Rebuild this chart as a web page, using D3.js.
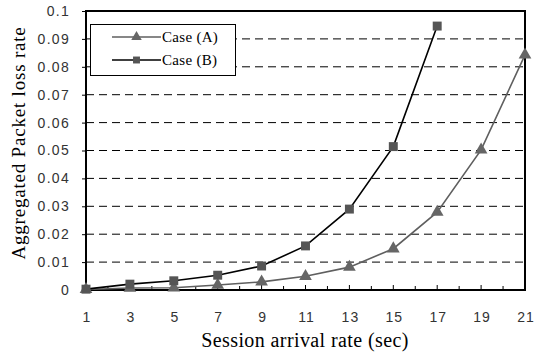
<!DOCTYPE html>
<html>
<head>
<meta charset="utf-8">
<script src="https://cdn.jsdelivr.net/npm/d3@7"></script>
<style>
  body { margin: 0; background: #fff; }
  svg { display: block; }
</style>
</head>
<body>
<div id="chart"></div>
<script>
var categories = [1, 3, 5, 7, 9, 11, 13, 15, 17, 19, 21];
var caseA = [0.0002, 0.0007, 0.0008, 0.0018, 0.0029, 0.0049, 0.0082, 0.0148, 0.0279, 0.0502, 0.0843];
var caseB = [0.0003, 0.0021, 0.0033, 0.0053, 0.0086, 0.0158, 0.0290, 0.0514, 0.0946];
var yTicks = [0, 0.01, 0.02, 0.03, 0.04, 0.05, 0.06, 0.07, 0.08, 0.09, 0.1];

var width = 537, height = 355;
var margin = { top: 11, right: 12, bottom: 65, left: 86 };

var svg = d3.select("#chart").append("svg")
  .attr("width", width)
  .attr("height", height);

var x = d3.scalePoint()
  .domain(categories)
  .range([margin.left, width - margin.right]);

var y = d3.scaleLinear()
  .domain([0, 0.1])
  .range([height - margin.bottom, margin.top]);

var sans = "'Liberation Sans', Arial, sans-serif";
var serif = "'Liberation Serif', 'Times New Roman', serif";

// dashed grid
svg.append("g")
  .selectAll("line")
  .data(yTicks.slice(1, -1))
  .enter().append("line")
  .attr("x1", margin.left)
  .attr("x2", width - margin.right)
  .attr("y1", function (d) { return y(d); })
  .attr("y2", function (d) { return y(d); })
  .attr("stroke", "#000")
  .attr("stroke-width", 1)
  .attr("stroke-dasharray", "8,5");

// minor/major ticks along the bottom, pointing up
var step = x.step();
var bottomTicks = d3.range(0, categories.length * 2 - 1).map(function (i) {
  return { pos: margin.left + i * step / 2, major: i % 2 == 0 };
});
svg.append("g")
  .selectAll("line")
  .data(bottomTicks)
  .enter().append("line")
  .attr("x1", function (d) { return d.pos; })
  .attr("x2", function (d) { return d.pos; })
  .attr("y1", y(0))
  .attr("y2", function (d) { return y(0) - (d.major ? 5 : 4); })
  .attr("stroke", "#000")
  .attr("stroke-width", 1);

// y axis
var yAxis = svg.append("g")
  .attr("transform", "translate(" + margin.left + ",0)")
  .call(d3.axisLeft(y).tickValues(yTicks).tickSize(4).tickPadding(12)
    .tickFormat(function (d) { return d === 0 ? "0" : String(+d.toFixed(2)); }));
yAxis.select(".domain").remove();
yAxis.selectAll("line").attr("stroke", "#000");
yAxis.selectAll("text")
  .attr("font-family", sans)
  .attr("font-size", 14)
  .attr("letter-spacing", 1.3)
  .attr("fill", "#333");

// x labels
var xAxis = svg.append("g")
  .attr("transform", "translate(0," + (height - margin.bottom) + ")")
  .call(d3.axisBottom(x).tickSize(0).tickPadding(22));
xAxis.select(".domain").remove();
xAxis.selectAll("text")
  .attr("font-family", sans)
  .attr("font-size", 14)
  .attr("letter-spacing", 1)
  .attr("dx", 0.5)
  .attr("fill", "#333");

// frame
svg.append("rect")
  .attr("x", margin.left)
  .attr("y", margin.top)
  .attr("width", width - margin.left - margin.right)
  .attr("height", height - margin.top - margin.bottom)
  .attr("fill", "none")
  .attr("stroke", "#000")
  .attr("stroke-width", 2);

var line = d3.line()
  .x(function (d, i) { return x(categories[i]); })
  .y(function (d) { return y(d); });

var tri = d3.symbol().type(d3.symbolTriangle).size(70);
var sq = d3.symbol().type(d3.symbolSquare).size(80);

// Case (A)
svg.append("path")
  .datum(caseA)
  .attr("d", line)
  .attr("fill", "none")
  .attr("stroke", "#5f5f5f")
  .attr("stroke-width", 1.6);

// Case (B)
svg.append("path")
  .datum(caseB)
  .attr("d", line)
  .attr("fill", "none")
  .attr("stroke", "#000")
  .attr("stroke-width", 1.6);

svg.append("g")
  .selectAll("path")
  .data(caseA)
  .enter().append("path")
  .attr("d", tri)
  .attr("transform", function (d, i) { return "translate(" + x(categories[i]) + "," + y(d) + ")"; })
  .attr("fill", "#666");

svg.append("g")
  .selectAll("path")
  .data(caseB)
  .enter().append("path")
  .attr("d", sq)
  .attr("transform", function (d, i) { return "translate(" + x(categories[i]) + "," + y(d) + ")"; })
  .attr("fill", "#555");

// legend
var legend = svg.append("g");
legend.append("rect")
  .attr("x", 90.5)
  .attr("y", 24.5)
  .attr("width", 145)
  .attr("height", 51)
  .attr("fill", "#fff")
  .attr("stroke", "#000")
  .attr("stroke-width", 1);

var legendItems = [
  { name: "Case (A)", color: "#5f5f5f", type: d3.symbolTriangle, fill: "#666" },
  { name: "Case (B)", color: "#000", type: d3.symbolSquare, fill: "#555" }
];
legendItems.forEach(function (it, i) {
  var ly = 37 + i * 23;
  legend.append("line")
    .attr("x1", 112).attr("x2", 161)
    .attr("y1", ly).attr("y2", ly)
    .attr("stroke", it.color)
    .attr("stroke-width", 1.6);
  legend.append("path")
    .attr("d", d3.symbol().type(it.type).size(48)())
    .attr("transform", "translate(136.5," + ly + ")")
    .attr("fill", it.fill);
  legend.append("text")
    .attr("x", 162)
    .attr("y", ly + 5)
    .attr("font-family", serif)
    .attr("font-size", 15)
    .attr("letter-spacing", 0.3)
    .attr("fill", "#000")
    .text(it.name);
});

// axis titles
svg.append("text")
  .attr("transform", "translate(25,143) rotate(-90)")
  .attr("text-anchor", "middle")
  .attr("font-family", serif)
  .attr("font-size", 19)
  .attr("letter-spacing", 0.8)
  .attr("fill", "#000")
  .text("Aggregated Packet loss rate");

svg.append("text")
  .attr("x", 305)
  .attr("y", 347)
  .attr("text-anchor", "middle")
  .attr("font-family", serif)
  .attr("font-size", 20)
  .attr("letter-spacing", 0.4)
  .attr("fill", "#000")
  .text("Session arrival rate (sec)");
</script>
</body>
</html>
